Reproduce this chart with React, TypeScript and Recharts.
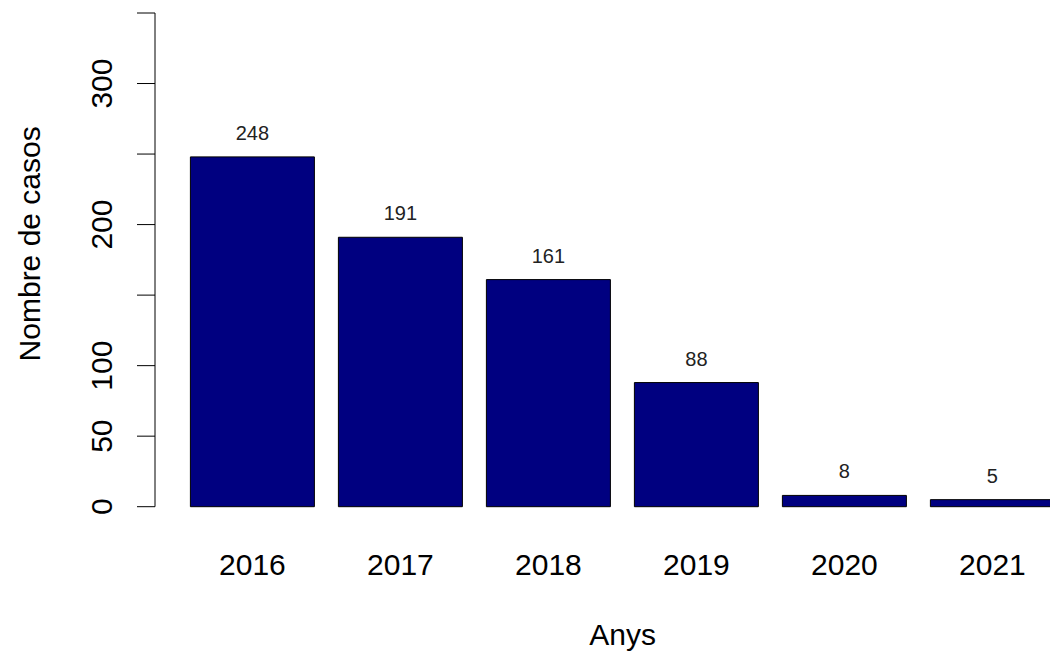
import React from 'react';
import { BarChart, Bar, XAxis, YAxis, LabelList, Label } from 'recharts';

const years = ['2016', '2017', '2018', '2019', '2020', '2021'];
const cases = [248, 191, 161, 88, 8, 5];
const yTicks = [0, 50, 100, 150, 200, 250, 300, 350];
const yTickLabels = [0, 50, 100, 200, 300];
const xTitle = 'Anys';
const yTitle = 'Nombre de casos';

const data = years.map((y, i) => ({ year: y, value: cases[i] }));

const FONT = '"Liberation Sans", Arial, sans-serif';

const YTick = (props: any) => {
  const { y, payload } = props;
  if (!yTickLabels.includes(payload.value)) return null;
  return (
    <text
      transform={`translate(112, ${y}) rotate(-90)`}
      textAnchor="middle"
      fontSize={30}
      fontFamily={FONT}
      fill="#000"
    >
      {payload.value}
    </text>
  );
};

const XTick = (props: any) => {
  const { x, y, payload } = props;
  return (
    <text x={x} y={y} dy={68} textAnchor="middle" fontSize={30} fontFamily={FONT} fill="#000">
      {payload.value}
    </text>
  );
};

export default function App() {
  return (
    <div style={{ position: 'fixed', left: 0, top: 0, width: 1050, height: 653, overflow: 'hidden', background: '#fff' }}>
      <BarChart
        width={1100}
        height={653}
        data={data}
        margin={{ top: 13, right: 33.6, bottom: 0, left: 0 }}
      >
        <XAxis
          dataKey="year"
          height={146.3}
          axisLine={false}
          tickLine={false}
          tickSize={0}
          tickMargin={0}
          padding={{ left: 23.4, right: 0 }}
          tick={<XTick />}
          interval={0}
        >
          <Label
            content={(p: any) => {
              const vb = p.viewBox;
              return (
                <text x={vb.x + vb.width / 2 + 12} y={vb.y + vb.height - 8} textAnchor="middle" fontSize={30} fontFamily={FONT} fill="#000">
                  {xTitle}
                </text>
              );
            }}
          />
        </XAxis>
        <YAxis
          width={155}
          domain={[0, 350]}
          ticks={yTicks}
          interval={0}
          axisLine={{ stroke: '#000', strokeWidth: 1 }}
          tickLine={{ stroke: '#000', strokeWidth: 1 }}
          tickSize={18}
          tick={<YTick />}
        >
          <Label
            content={(p: any) => {
              const vb = p.viewBox;
              return (
                <text
                  transform={`translate(40, ${vb.y + vb.height / 2 - 16}) rotate(-90)`}
                  textAnchor="middle"
                  fontSize={30}
                  fontFamily={FONT}
                  fill="#000"
                >
                  {yTitle}
                </text>
              );
            }}
          />
        </YAxis>
        <Bar dataKey="value" fill="#000080" stroke="#000" strokeWidth={1} barSize={124} isAnimationActive={false}>
          <LabelList dataKey="value" position="top" offset={17} fontSize={20} fontFamily={FONT} fill="#222" />
        </Bar>
      </BarChart>
    </div>
  );
}
